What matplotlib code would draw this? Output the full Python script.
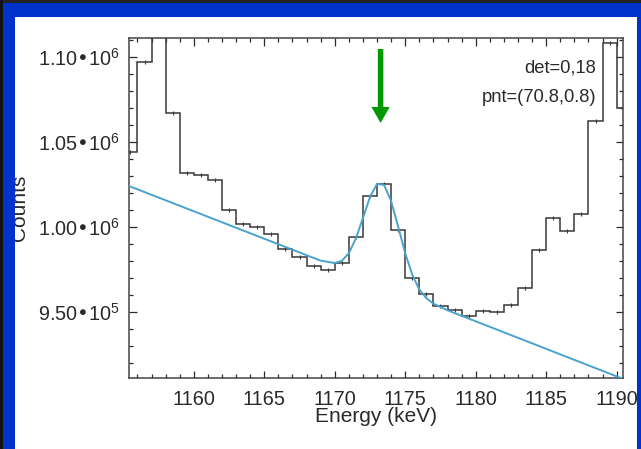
import matplotlib
matplotlib.use("Agg")
import matplotlib.pyplot as plt
from matplotlib.patches import Rectangle, FancyArrow
from matplotlib.ticker import MultipleLocator, FixedLocator, FixedFormatter

plt.rcParams["font.family"] = ["Liberation Sans", "DejaVu Sans"]
plt.rcParams["mathtext.default"] = "regular"

# spectrum, 1 keV bins
bin_edges = list(range(1155, 1192))
counts = [
    1.0443e6, 1.0969e6, 1.1150e6, 1.0669e6, 1.0319e6, 1.0304e6, 1.0276e6,
    1.0100e6, 1.0018e6, 0.9998e6, 0.9957e6, 0.9869e6, 0.9825e6, 0.9772e6,
    0.9747e6, 0.9786e6, 0.9943e6, 1.0184e6, 1.0253e6, 0.9982e6, 0.9702e6,
    0.9604e6, 0.9535e6, 0.9512e6, 0.9478e6, 0.9508e6, 0.9502e6, 0.9541e6,
    0.9643e6, 0.9865e6, 1.0051e6, 0.9976e6, 1.0076e6, 1.0625e6, 1.1081e6,
    1.0698e6,
]
count_err = 1200

# fitted line + peak
fit_energy = [1155.0, 1168.0, 1169.0, 1170.0, 1170.5, 1171.0, 1171.5, 1172.0,
              1172.5, 1173.0, 1173.5, 1174.0, 1174.5, 1175.0, 1175.5, 1176.0,
              1176.5, 1177.0, 1178.0, 1191.0]
fit_counts = [1.0254e6, 0.9834e6, 0.9802e6, 0.9788e6, 0.9801e6, 0.9846e6,
              0.9933e6, 1.0053e6, 1.0177e6, 1.0254e6, 1.0247e6, 1.0152e6,
              1.0002e6, 0.9845e6, 0.9719e6, 0.9632e6, 0.9581e6, 0.9549e6,
              0.9510e6, 0.9089e6]

line_energy = 1173.25
y_ticks = [9.5e5, 1.0e6, 1.05e6, 1.10e6]
y_tick_labels = ["9.50•10$^{5}$", "1.00•10$^{6}$", "1.05•10$^{6}$", "1.10•10$^{6}$"]

ink = "#2a2a2a"

fig = plt.figure(figsize=(6.41, 4.49), dpi=100, facecolor="white")
ax = fig.add_axes([129 / 641, 1 - 378 / 449, 494 / 641, 340 / 449])

centers = [e + 0.5 for e in bin_edges[:-1]]
ax.stairs(counts, bin_edges, baseline=None, color="#383838", lw=1.1, zorder=3)
ax.errorbar(centers, counts, yerr=count_err, fmt="none", ecolor="#383838",
            elinewidth=0.8, capsize=0, zorder=3)
ax.plot(fit_energy, fit_counts, color="#4aa2cf", lw=1.4, zorder=4)

ax.add_patch(FancyArrow(line_energy, 1.1047e6, 0, 1.0612e6 - 1.1047e6,
                        width=0.39, head_width=1.3, head_length=9400,
                        length_includes_head=True, color="#009a00", lw=0,
                        zorder=5))

ax.set_xlim(1155.4, 1190.45)
ax.set_ylim(0.91118e6, 1.11117e6)

ax.xaxis.set_major_locator(MultipleLocator(5))
ax.xaxis.set_minor_locator(MultipleLocator(1))
ax.yaxis.set_major_locator(FixedLocator(y_ticks))
ax.yaxis.set_major_formatter(FixedFormatter(y_tick_labels))
ax.yaxis.set_minor_locator(MultipleLocator(10000))

ax.tick_params(which="both", direction="in", top=True, right=True,
               color=ink, width=0.9, labelcolor=ink)
ax.tick_params(which="major", length=5.4, labelsize=14.3)
ax.tick_params(which="minor", length=2.9)
ax.tick_params(axis="x", pad=8.3)
ax.tick_params(axis="y", pad=6.5)
for sp in ax.spines.values():
    sp.set_color("#444444")
    sp.set_linewidth(1.1)

ax.set_xlabel("Energy (keV)", fontsize=15, color=ink)
ax.xaxis.label.set_va("baseline")
ax.xaxis.set_label_coords(0.5, -(422.5 - 378) / 340)
ax.set_ylabel("Counts", fontsize=15, color=ink)
ax.yaxis.label.set_va("baseline")
ax.yaxis.set_label_coords((25 - 129) / 494, 0.5)

fig.text(596 / 641, 1 - 72.5 / 449, "det=0,18", ha="right", va="baseline",
         fontsize=13.2, color=ink)
fig.text(596.5 / 641, 1 - 101.7 / 449, "pnt=(70.8,0.8)", ha="right",
         va="baseline", fontsize=13.2, color=ink)

# slide frame
blue = "#0033cc"
frame = [
    (0, 0, 641, 3, "#222222"),
    (0, 3, 641, 14, blue),
    (0, 0, 3, 449, "#111111"),
    (3, 3, 12, 446, blue),
    (637, 3, 4, 446, blue),
]
for x0, y0, w, h, c in frame:
    fig.add_artist(Rectangle((x0 / 641, 1 - (y0 + h) / 449), w / 641, h / 449,
                             transform=fig.transFigure, facecolor=c,
                             edgecolor="none", zorder=20))

fig.savefig("out.png", dpi=100, facecolor="white")
